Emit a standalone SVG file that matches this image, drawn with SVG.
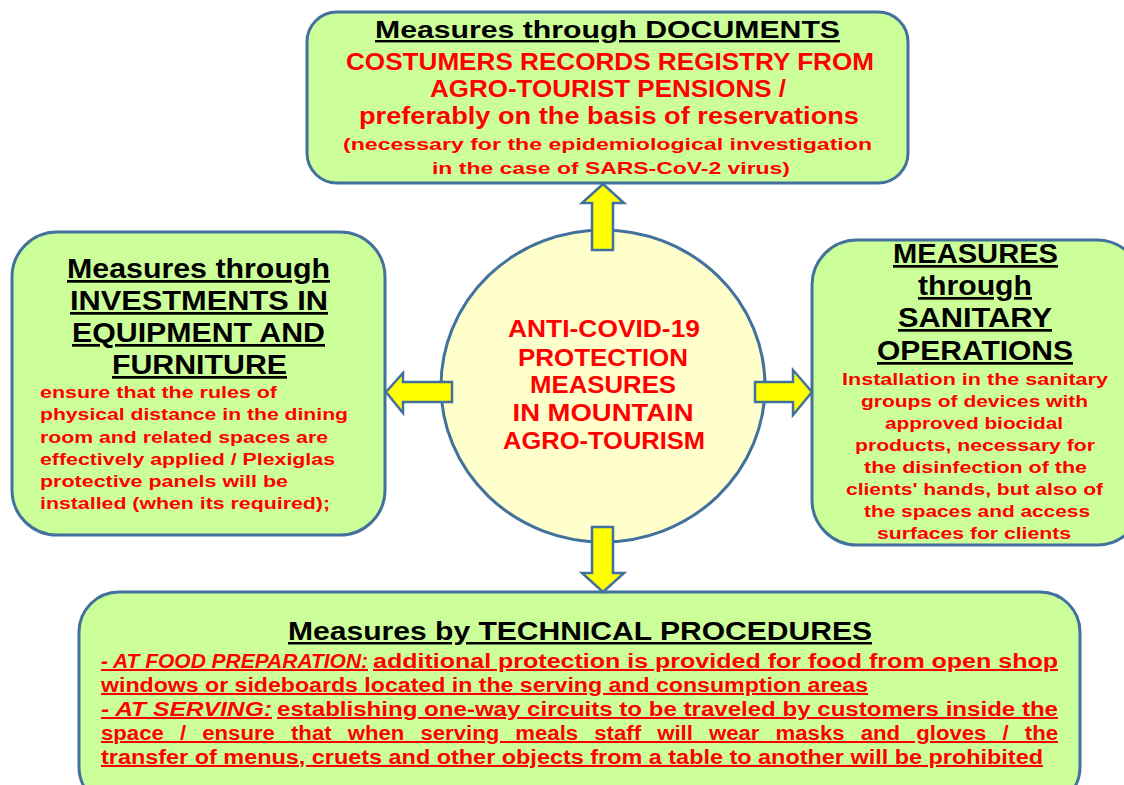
<svg xmlns="http://www.w3.org/2000/svg" width="1124" height="785" viewBox="0 0 1124 785">
  <style>
    .box { fill: #ccff99; stroke: #41719c; stroke-width: 3; }
    .hub { fill: #ffffcc; stroke: #41719c; stroke-width: 3; }
    .arrow { fill: #ffff00; stroke: #41719c; stroke-width: 2.5; stroke-linejoin: miter; }
    text { font-family: "Liberation Sans", Arial, sans-serif; font-weight: bold; }
    .head { fill: #000; text-decoration: underline; }
    .red { fill: #ff0000; }
    .c { text-anchor: middle; }
    .ul { text-decoration: underline; }
    .it { font-style: italic; }
  </style>

  <rect width="1124" height="785" fill="#ffffff"/>

  <!-- Documents -->
  <g id="node-documents">
    <rect class="box" x="307" y="12" width="601" height="171" rx="30"/>
    <text class="head" x="375" y="38" font-size="24" textLength="465" lengthAdjust="spacingAndGlyphs">Measures through DOCUMENTS</text>
    <text class="red" x="346" y="70" font-size="23" textLength="528" lengthAdjust="spacingAndGlyphs">COSTUMERS RECORDS REGISTRY FROM</text>
    <text class="red" x="430" y="97" font-size="23" textLength="356" lengthAdjust="spacingAndGlyphs">AGRO-TOURIST PENSIONS /</text>
    <text class="red" x="359" y="124" font-size="23" textLength="500" lengthAdjust="spacingAndGlyphs">preferably on the basis of reservations</text>
    <text class="red" x="343" y="150" font-size="17" textLength="529" lengthAdjust="spacingAndGlyphs">(necessary for the epidemiological investigation</text>
    <text class="red" x="432" y="174" font-size="17" textLength="358" lengthAdjust="spacingAndGlyphs">in the case of SARS-CoV-2 virus)</text>
  </g>

  <!-- Investments -->
  <g id="node-investments">
    <rect class="box" x="12" y="232" width="373" height="303" rx="45"/>
    <text class="head" x="67" y="278" font-size="27" textLength="263" lengthAdjust="spacingAndGlyphs">Measures through</text>
    <text class="head" x="70" y="310" font-size="27" textLength="258" lengthAdjust="spacingAndGlyphs">INVESTMENTS IN</text>
    <text class="head" x="72" y="342" font-size="27" textLength="253" lengthAdjust="spacingAndGlyphs">EQUIPMENT AND</text>
    <text class="head" x="112" y="374" font-size="27" textLength="175" lengthAdjust="spacingAndGlyphs">FURNITURE</text>
    <text class="red" x="40" y="398" font-size="16" textLength="237" lengthAdjust="spacingAndGlyphs">ensure that the rules of</text>
    <text class="red" x="40" y="420" font-size="16" textLength="308" lengthAdjust="spacingAndGlyphs">physical distance in the dining</text>
    <text class="red" x="40" y="443" font-size="16" textLength="288" lengthAdjust="spacingAndGlyphs">room and related spaces are</text>
    <text class="red" x="40" y="465" font-size="16" textLength="295" lengthAdjust="spacingAndGlyphs">effectively applied / Plexiglas</text>
    <text class="red" x="40" y="487" font-size="16" textLength="248" lengthAdjust="spacingAndGlyphs">protective panels will be</text>
    <text class="red" x="40" y="509" font-size="16" textLength="290" lengthAdjust="spacingAndGlyphs">installed (when its required);</text>
  </g>

  <!-- Sanitary operations -->
  <g id="node-sanitary">
    <rect class="box" x="812" y="240" width="330" height="305" rx="45"/>
    <text class="head" x="893" y="263" font-size="27" textLength="165" lengthAdjust="spacingAndGlyphs">MEASURES</text>
    <text class="head" x="918" y="295" font-size="27" textLength="114" lengthAdjust="spacingAndGlyphs">through</text>
    <text class="head" x="898" y="327" font-size="27" textLength="154" lengthAdjust="spacingAndGlyphs">SANITARY</text>
    <text class="head" x="877" y="360" font-size="27" textLength="196" lengthAdjust="spacingAndGlyphs">OPERATIONS</text>
    <text class="red" x="842" y="385" font-size="16" textLength="266" lengthAdjust="spacingAndGlyphs">Installation in the sanitary</text>
    <text class="red" x="861" y="407" font-size="16" textLength="227" lengthAdjust="spacingAndGlyphs">groups of devices with</text>
    <text class="red" x="885" y="429" font-size="16" textLength="178" lengthAdjust="spacingAndGlyphs">approved biocidal</text>
    <text class="red" x="855" y="451" font-size="16" textLength="240" lengthAdjust="spacingAndGlyphs">products, necessary for</text>
    <text class="red" x="864" y="473" font-size="16" textLength="223" lengthAdjust="spacingAndGlyphs">the disinfection of the</text>
    <text class="red" x="846" y="495" font-size="16" textLength="257" lengthAdjust="spacingAndGlyphs">clients' hands, but also of</text>
    <text class="red" x="864" y="517" font-size="16" textLength="226" lengthAdjust="spacingAndGlyphs">the spaces and access</text>
    <text class="red" x="877" y="539" font-size="16" textLength="194" lengthAdjust="spacingAndGlyphs">surfaces for clients</text>
  </g>

  <!-- Technical procedures -->
  <g id="node-technical">
    <rect class="box" x="79" y="592" width="1001" height="215" rx="40"/>
    <text class="head" x="288" y="640" font-size="25" textLength="584" lengthAdjust="spacingAndGlyphs">Measures by TECHNICAL PROCEDURES</text>
    <text class="red ul it" x="101" y="668" font-size="20" textLength="267" lengthAdjust="spacingAndGlyphs">- AT FOOD PREPARATION:</text>
    <text class="red ul" x="373" y="668" font-size="20" textLength="685" lengthAdjust="spacingAndGlyphs">additional protection is provided for food from open shop</text>
    <text class="red ul" x="101" y="692" font-size="20" textLength="767" lengthAdjust="spacingAndGlyphs">windows or sideboards located in the serving and consumption areas</text>
    <text class="red ul it" x="101" y="716" font-size="20" textLength="171" lengthAdjust="spacingAndGlyphs">- AT SERVING:</text>
    <text class="red ul" x="277" y="716" font-size="20" textLength="781" lengthAdjust="spacingAndGlyphs">establishing one-way circuits to be traveled by customers inside the</text>
    <text class="red ul" x="101" y="740" font-size="20" word-spacing="9" textLength="957" lengthAdjust="spacingAndGlyphs">space / ensure that when serving meals staff will wear masks and gloves / the</text>
    <text class="red ul" x="101" y="764" font-size="20" textLength="942" lengthAdjust="spacingAndGlyphs">transfer of menus, cruets and other objects from a table to another will be prohibited</text>
  </g>

  <!-- Central hub -->
  <g id="node-hub">
    <ellipse class="hub" cx="603" cy="386" rx="162" ry="156"/>
    <text class="red c" x="604" y="337" font-size="23" textLength="192" lengthAdjust="spacingAndGlyphs">ANTI-COVID-19</text>
    <text class="red c" x="603" y="366" font-size="23" textLength="170" lengthAdjust="spacingAndGlyphs">PROTECTION</text>
    <text class="red c" x="603" y="393" font-size="23" textLength="146" lengthAdjust="spacingAndGlyphs">MEASURES</text>
    <text class="red c" x="603" y="421" font-size="23" textLength="181" lengthAdjust="spacingAndGlyphs">IN MOUNTAIN</text>
    <text class="red c" x="604" y="449" font-size="23" textLength="202" lengthAdjust="spacingAndGlyphs">AGRO-TOURISM</text>
  </g>

  <!-- Block arrows from the hub to each group of measures -->
  <g id="connectors">
    <polygon class="arrow" points="592,250 592,203 582,203 603,184 624,203 613,203 613,250"/>
    <polygon class="arrow" points="592,527 613,527 613,573 624,573 603,592 582,573 592,573"/>
    <polygon class="arrow" points="452,382 403,382 403,373 386,392 403,413 403,402 452,402"/>
    <polygon class="arrow" points="755,382 793,382 793,370 812,392 793,415 793,402 755,402"/>
  </g>
</svg>
